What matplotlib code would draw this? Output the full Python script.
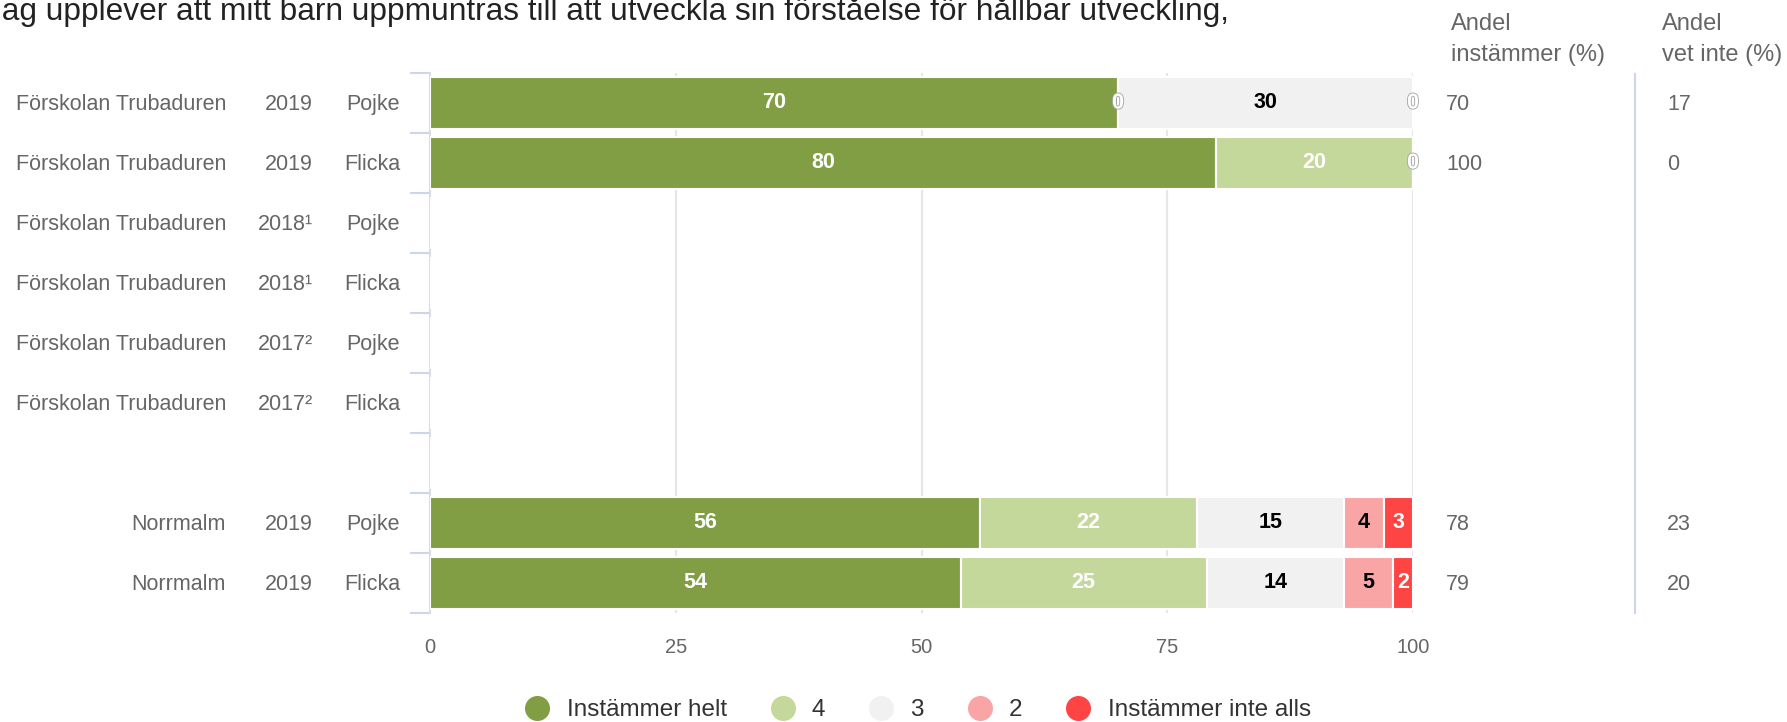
import numpy as np
import matplotlib
matplotlib.use("Agg")
import matplotlib.pyplot as plt
from matplotlib.lines import Line2D
import matplotlib.patheffects as pe

plt.rcParams['font.family'] = ['Liberation Sans', 'DejaVu Sans']

nan = np.nan
title = "Jag upplever att mitt barn uppmuntras till att utveckla sin förståelse för hållbar utveckling,"
schools = ["Förskolan Trubaduren"] * 6 + ["", "Norrmalm", "Norrmalm"]
years = ["2019", "2019", "2018¹", "2018¹", "2017²", "2017²", "", "2019", "2019"]
genders = ["Pojke", "Flicka", "Pojke", "Flicka", "Pojke", "Flicka", "", "Pojke", "Flicka"]

series_names = ["Instämmer helt", "4", "3", "2", "Instämmer inte alls"]
helt = [70, 80, nan, nan, nan, nan, nan, 56, 54]
s4 = [0, 20, nan, nan, nan, nan, nan, 22, 25]
s3 = [30, 0, nan, nan, nan, nan, nan, 15, 14]
s2 = [0, nan, nan, nan, nan, nan, nan, 4, 5]
s1 = [nan, nan, nan, nan, nan, nan, nan, 3, 2]
andel_instammer = ["70", "100", "", "", "", "", "", "78", "79"]
andel_vet_inte = ["17", "0", "", "", "", "", "", "23", "20"]
xticks = [0, 25, 50, 75, 100]

colors = ["#829E44", "#C5D89B", "#F1F1F1", "#FAA5A5", "#FF4444"]
label_colors = ["white", "white", "black", "black", "white"]

W, H = 1787, 722
fig = plt.figure(figsize=(W / 100, H / 100), dpi=100)
ax_l, ax_r, ax_t, ax_b = 430, 1413, 73, 613
ax = fig.add_axes([ax_l / W, 1 - ax_b / H, (ax_r - ax_l) / W, (ax_b - ax_t) / H])

n = len(schools)
y = np.arange(n)
data = [helt, s4, s3, s2, s1]
left = np.zeros(n)
for vals, col, lc in zip(data, colors, label_colors):
    v = np.array(vals, dtype=float)
    vv = np.nan_to_num(v)
    ax.barh(y, vv, left=left, height=0.88, color=col, edgecolor="white",
            linewidth=1.5, zorder=3)
    for i in range(n):
        if np.isnan(v[i]):
            continue
        xc = left[i] + vv[i] / 2
        if v[i] == 0:
            t = ax.text(xc, i, "0", ha="center", va="center", fontsize=15.5,
                        fontweight="bold", color="white", zorder=5)
            t.set_path_effects([pe.withStroke(linewidth=1.3, foreground="#a8a8a8")])
        else:
            ax.text(xc, i, f"{int(v[i])}", ha="center", va="center", fontsize=15.5,
                    fontweight="bold", color=lc, zorder=5)
    left = left + vv

ax.set_xlim(0, 100)
ax.set_ylim(n - 0.5, -0.5)
ax.set_xticks(xticks)
ax.set_xticklabels([str(t) for t in xticks])
ax.tick_params(axis="x", length=0, pad=18, labelsize=14.5, labelcolor="#666666")
ax.set_yticks([])
ax.set_yticks(np.arange(n + 1) - 0.5, minor=True)
ax.tick_params(axis="y", which="minor", length=14.4, width=1.5, color="#ccd6eb",
               direction="out")
for sp in ["top", "right", "bottom"]:
    ax.spines[sp].set_visible(False)
ax.spines["left"].set_color("#dcdcdc")
ax.spines["left"].set_linewidth(1.5)
for xv in xticks[1:]:
    ax.axvline(xv, color="#e6e6e6", linewidth=1.5, zorder=1)

def ax_x(px):
    return (px - ax_l) / (ax_r - ax_l)

tr = ax.get_yaxis_transform()
lab_fs = 15.5
for i in range(n):
    ax.text(ax_x(226), i + 0.02, schools[i], transform=tr, ha="right", va="center",
            fontsize=lab_fs, color="#666666")
    ax.text(ax_x(313), i + 0.02, years[i], transform=tr, ha="right", va="center",
            fontsize=lab_fs, color="#666666")
    ax.text(ax_x(400), i + 0.02, genders[i], transform=tr, ha="right", va="center",
            fontsize=lab_fs, color="#666666")
    ax.text(ax_x(1446), i + 0.02, andel_instammer[i], transform=tr, ha="left", va="center",
            fontsize=15.5, color="#666666")
    ax.text(ax_x(1667), i + 0.02, andel_vet_inte[i], transform=tr, ha="left", va="center",
            fontsize=15.5, color="#666666")

# separator line between right columns
ax.plot([ax_x(1635)] * 2, [-0.48, n - 0.5], transform=tr, color="#ccd6eb",
        linewidth=1.5, clip_on=False)

# column headers
for xpx, lines in [(1451, ["Andel", "instämmer (%)"]), (1662, ["Andel", "vet inte (%)"])]:
    fig.text(xpx / W, 1 - 24 / H, lines[0], ha="left", va="center", fontsize=17,
             color="#666666")
    fig.text(xpx / W, 1 - 55 / H, lines[1], ha="left", va="center", fontsize=17,
             color="#666666")

# title (cut off at the top as in the reference)
fig.text(-14 / W, 1 - 20 / H, title, ha="left", va="baseline", fontsize=22.8,
         color="#222222")

handles = [Line2D([0], [0], marker="o", linestyle="none", markersize=17,
                  markerfacecolor=c, markeredgecolor=c) for c in colors]
fig.legend(handles, series_names, loc="center", bbox_to_anchor=(918 / W, 1 - 710 / H),
           ncol=5, frameon=False, fontsize=17.5, handlelength=1.0, handletextpad=0.7,
           columnspacing=1.8, labelcolor="#333333", borderaxespad=0, borderpad=0)

fig.savefig("out.png", dpi=100)
